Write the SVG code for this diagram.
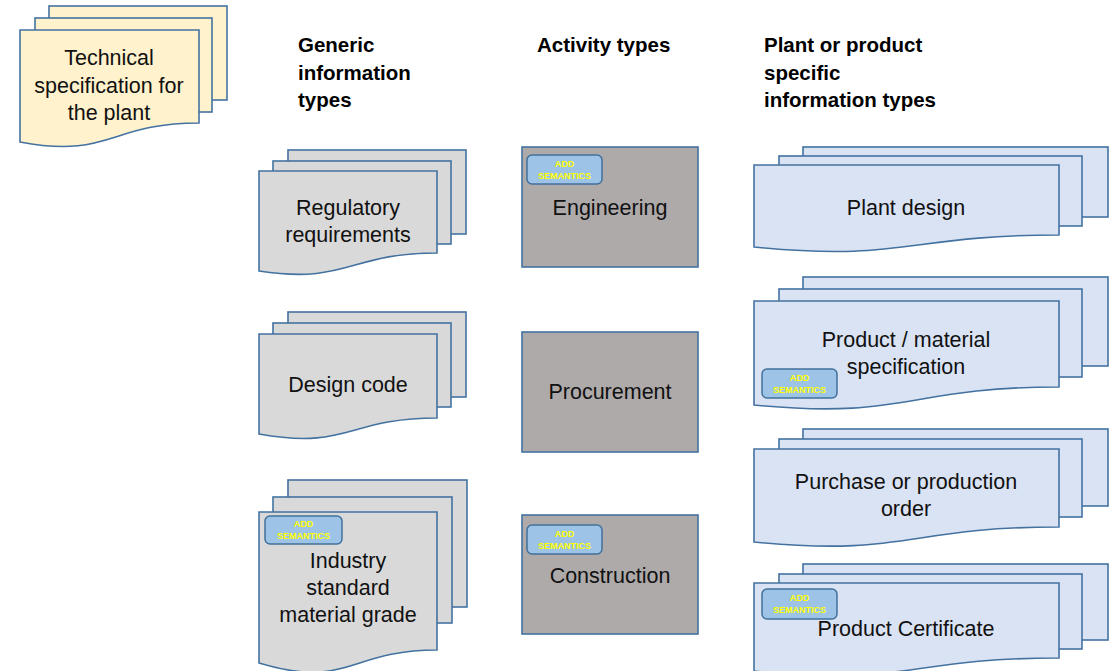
<svg xmlns="http://www.w3.org/2000/svg" width="1115" height="671" viewBox="0 0 1115 671">
  <style>
    .sheet { stroke: #4472A0; stroke-width: 1.6; }
    .yel { fill: #FFF2CC; }
    .gry { fill: #D9D9D9; }
    .blu { fill: #DAE3F3; }
    .act { fill: #AEAAAA; stroke: #4472A0; stroke-width: 1.6; }
    .badge { fill: #9DC3E6; stroke: #41719C; stroke-width: 1.5; }
    .badge-t { font-family: "Liberation Sans", Arial, sans-serif; font-size: 9px; font-weight: bold; fill: #FFFF00; text-anchor: middle; }
    .lbl { font-family: "Liberation Sans", Arial, sans-serif; font-size: 21.5px; fill: #111111; text-anchor: middle; }
    .hdr { font-family: "Liberation Sans", Arial, sans-serif; font-size: 20.5px; font-weight: bold; fill: #000000; }
  </style>
  <rect width="1115" height="671" fill="#FFFFFF"/>

  <!-- column headings -->
  <g id="headings">
    <text class="hdr" x="298" y="52">Generic</text>
    <text class="hdr" x="298" y="80">information</text>
    <text class="hdr" x="298" y="107">types</text>
    <text class="hdr" x="537" y="52">Activity types</text>
    <text class="hdr" x="764" y="52">Plant or product</text>
    <text class="hdr" x="764" y="80">specific</text>
    <text class="hdr" x="764" y="107">information types</text>
  </g>

  <!-- plant specification document stack -->
  <g id="tech-spec">
    <rect class="sheet yel" x="49" y="6" width="178" height="94"/>
    <rect class="sheet yel" x="35" y="18" width="177" height="94"/>
    <path class="sheet yel" d="M20,30 H199 V123 C109.5,123 109.5,159 20,142 Z"/>
    <text class="lbl" x="109" y="65">Technical</text>
    <text class="lbl" x="109" y="92.5">specification for</text>
    <text class="lbl" x="109" y="120">the plant</text>
  </g>

  <!-- generic information types -->
  <g id="regulatory">
    <rect class="sheet gry" x="288" y="150" width="178" height="84"/>
    <rect class="sheet gry" x="273" y="161" width="178" height="83"/>
    <path class="sheet gry" d="M259,171 H437 V253 C348,253 348,284.5 259,271 Z"/>
    <text class="lbl" x="348" y="215">Regulatory</text>
    <text class="lbl" x="348" y="242">requirements</text>
  </g>

  <g id="design-code">
    <rect class="sheet gry" x="288" y="312" width="178" height="85"/>
    <rect class="sheet gry" x="273" y="323" width="178" height="84"/>
    <path class="sheet gry" d="M259,334 H437 V418 C348,418 348,450 259,434 Z"/>
    <text class="lbl" x="348" y="392">Design code</text>
  </g>

  <g id="material-grade">
    <rect class="sheet gry" x="288" y="480" width="179" height="127"/>
    <rect class="sheet gry" x="273" y="497" width="179" height="126"/>
    <path class="sheet gry" d="M259,512 H437 V650 C348,650 348,690 259,663 Z"/>
    <rect class="badge" x="265" y="516" width="77" height="28" rx="5"/>
    <text class="badge-t" x="303.5" y="527">ADD</text>
    <text class="badge-t" x="303.5" y="539">SEMANTICS</text>
    <text class="lbl" x="348" y="568">Industry</text>
    <text class="lbl" x="348" y="595">standard</text>
    <text class="lbl" x="348" y="622">material grade</text>
  </g>

  <!-- activity types -->
  <g id="engineering">
    <rect class="act" x="522" y="147" width="176" height="120"/>
    <rect class="badge" x="527" y="155" width="75" height="29" rx="5"/>
    <text class="badge-t" x="564.5" y="167">ADD</text>
    <text class="badge-t" x="564.5" y="179">SEMANTICS</text>
    <text class="lbl" x="610" y="215">Engineering</text>
  </g>

  <g id="procurement">
    <rect class="act" x="522" y="332" width="176" height="120"/>
    <text class="lbl" x="610" y="399">Procurement</text>
  </g>

  <g id="construction">
    <rect class="act" x="522" y="515" width="176" height="119"/>
    <rect class="badge" x="527" y="525" width="75" height="29" rx="5"/>
    <text class="badge-t" x="564.5" y="537">ADD</text>
    <text class="badge-t" x="564.5" y="549">SEMANTICS</text>
    <text class="lbl" x="610" y="583">Construction</text>
  </g>

  <!-- plant or product specific information types -->
  <g id="plant-design">
    <rect class="sheet blu" x="803" y="147" width="305" height="70"/>
    <rect class="sheet blu" x="779" y="156" width="303" height="70"/>
    <path class="sheet blu" d="M754,165 H1059 V235 C906.5,235 906.5,262 754,247 Z"/>
    <text class="lbl" x="906" y="215">Plant design</text>
  </g>

  <g id="material-spec">
    <rect class="sheet blu" x="803" y="277" width="305" height="89"/>
    <rect class="sheet blu" x="779" y="289" width="303" height="88"/>
    <path class="sheet blu" d="M754,301 H1059 V387 C906.5,387 906.5,420 754,405 Z"/>
    <rect class="badge" x="762" y="369" width="75" height="29" rx="5"/>
    <text class="badge-t" x="799.5" y="381">ADD</text>
    <text class="badge-t" x="799.5" y="393">SEMANTICS</text>
    <text class="lbl" x="906" y="347">Product / material</text>
    <text class="lbl" x="906" y="374">specification</text>
  </g>

  <g id="purchase-order">
    <rect class="sheet blu" x="803" y="429" width="305" height="77"/>
    <rect class="sheet blu" x="779" y="439" width="303" height="78"/>
    <path class="sheet blu" d="M754,449 H1059 V527 C906.5,527 906.5,557 754,542 Z"/>
    <text class="lbl" x="906" y="489">Purchase or production</text>
    <text class="lbl" x="906" y="516">order</text>
  </g>

  <g id="certificate">
    <rect class="sheet blu" x="803" y="564" width="305" height="76"/>
    <rect class="sheet blu" x="779" y="574" width="303" height="75"/>
    <path class="sheet blu" d="M754,583 H1059 V658 C906.5,658 906.5,687 754,671 Z"/>
    <rect class="badge" x="762" y="589" width="75" height="30" rx="5"/>
    <text class="badge-t" x="799.5" y="601">ADD</text>
    <text class="badge-t" x="799.5" y="613">SEMANTICS</text>
    <text class="lbl" x="906" y="636">Product Certificate</text>
  </g>

  <!-- no connectors in this figure -->
  <g id="connectors"/>
</svg>
